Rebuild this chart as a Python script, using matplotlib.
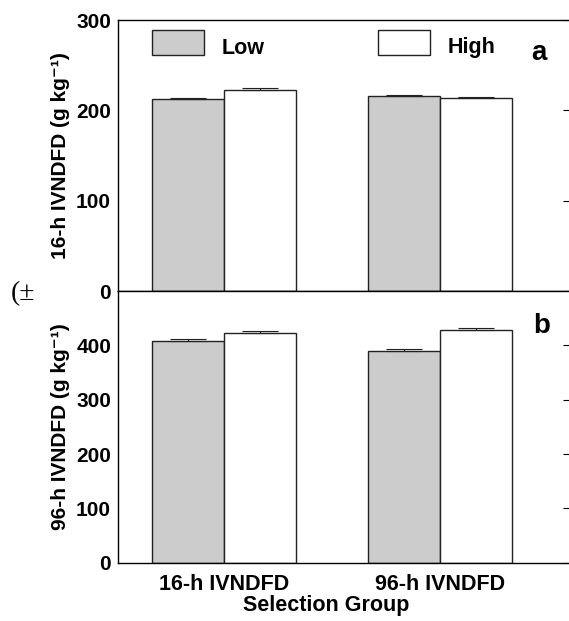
import matplotlib.pyplot as plt
import numpy as np
from matplotlib.patches import Rectangle

plt.rcParams['font.family'] = ['Liberation Sans', 'DejaVu Sans']
plt.rcParams['font.weight'] = 'bold'

groups = ['16-h IVNDFD', '96-h IVNDFD']
series = ['Low', 'High']
colors = ['#cccccc', 'white']

ivndfd16 = [[212.2, 215.9], [222.9, 214.0]]
ivndfd16_err = [[1.8, 1.0], [1.9, 0.8]]
ivndfd96 = [[407.4, 390.2], [422.1, 428.4]]
ivndfd96_err = [[3.6, 3.1], [3.7, 4.2]]

W, H = 569, 621
fig = plt.figure(figsize=(W / 100, H / 100), dpi=100)

def px(x0, y0, x1, y1):
    return [x0 / W, 1 - y1 / H, (x1 - x0) / W, (y1 - y0) / H]

ax1 = fig.add_axes(px(118, 20, 569, 291))
ax2 = fig.add_axes(px(118, 291, 569, 562.7))

x = np.arange(1, len(groups) + 1)
bw = 0.333

def draw(ax, vals, errs, ymax, yticks):
    for i, (v, e) in enumerate(zip(vals, errs)):
        pos = x + (i - 0.5) * bw
        ax.bar(pos, v, width=bw, color=colors[i], edgecolor='#222222',
               linewidth=1.0, zorder=2)
        ax.errorbar(pos, v, yerr=[np.zeros(len(e)), e], fmt='none',
                    ecolor='#222222', elinewidth=0.8, capsize=13,
                    capthick=0.8, zorder=3)
    ax.set_xlim(0.51, 0.51 + 451 / 216)
    ax.set_ylim(0, ymax)
    ax.set_yticks(yticks)
    ax.set_yticklabels([str(t) for t in yticks], fontsize=15, fontweight='bold')
    ax.tick_params(axis='y', left=False, right=True, direction='in',
                   length=4, width=0.8, pad=5)
    ax.spines['right'].set_visible(False)
    for s in ax.spines.values():
        s.set_linewidth(1.0)

draw(ax1, ivndfd16, ivndfd16_err, 300, [0, 100, 200, 300])
draw(ax2, ivndfd96, ivndfd96_err, 500, [0, 100, 200, 300, 400])

ax1.set_xticks([])
ax2.set_xticks(x)
ax2.set_xticklabels(groups, fontsize=15.5, fontweight='bold')
ax2.tick_params(axis='x', length=0, pad=8)

fig.text(60 / W, 1 - 155.5 / H, '16-h IVNDFD (g kg⁻¹)', rotation=90,
         ha='center', va='center', fontsize=15, fontweight='bold')
fig.text(60 / W, 1 - 427 / H, '96-h IVNDFD (g kg⁻¹)', rotation=90,
         ha='center', va='center', fontsize=15, fontweight='bold')
fig.text(326 / W, 1 - 606 / H, 'Selection Group', ha='center', va='center',
         fontsize=15.5, fontweight='bold')

# legend
for (x0, lab, tx), c in zip([(151.5, 'Low', 222), (377.5, 'High', 448)], colors):
    fig.patches.append(Rectangle((x0 / W, 1 - 55 / H), 52.5 / W, 25.5 / H,
                                 transform=fig.transFigure, facecolor=c,
                                 edgecolor='#222222', linewidth=1.0))
    fig.text(tx / W, 1 - 48 / H, lab, ha='left', va='center', fontsize=15.5,
             fontweight='bold')

fig.text(538.5 / W, 1 - 53 / H, 'a', ha='center', va='center', fontsize=20,
         fontweight='bold')
fig.text(542 / W, 1 - 326 / H, 'b', ha='center', va='center', fontsize=20,
         fontweight='bold')
fig.text(11 / W, 1 - 294 / H, '(±', ha='left', va='center', fontsize=20,
         fontweight='normal', family='Liberation Serif')

fig.savefig('out.png', dpi=100)
